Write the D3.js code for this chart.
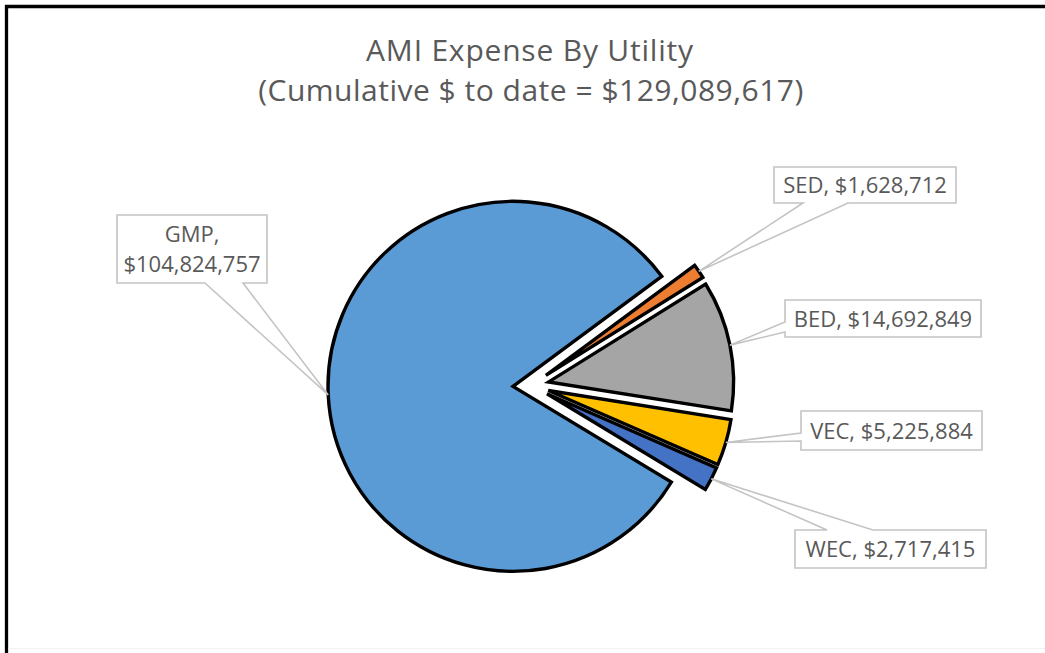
<!DOCTYPE html>
<html>
<head>
<meta charset="utf-8">
<script src="https://cdn.jsdelivr.net/npm/d3@7"></script>
<style>
  body { margin: 0; background: #fff; }
  text { font-family: "Open Sans", "Noto Sans", sans-serif; fill: #595959; }
</style>
</head>
<body>
<script>
'use strict';

// data
var categories = ["GMP", "SED", "BED", "VEC", "WEC"];
var values = [104824757, 1628712, 14692849, 5225884, 2717415];
var title = "AMI Expense By Utility";

var colors = ["#5B9BD5", "#ED7D31", "#A5A5A5", "#FFC000", "#4472C4"];

// callout boxes (x, y, w, h, which edge the pointer leaves from, pointer base a..b)
var boxes = [
  {x: 117, y: 215, w: 150, h: 68, side: "bottom", a: 205, b: 243},
  {x: 774, y: 167, w: 182, h: 36, side: "bottom", a: 803, b: 848},
  {x: 785, y: 300, w: 196, h: 37, side: "left", a: 322, b: 332},
  {x: 801, y: 411, w: 181, h: 39, side: "left", a: 433, b: 441},
  {x: 795, y: 530, w: 191, h: 38, side: "top", a: 827, b: 873}
];

var width = 1045, height = 653;
var cx = 531, cy = 385.5, R = 185, explode = 18;
var start = 121.17 * Math.PI / 180;

var money = d3.format("$,");
var total = d3.sum(values);

var svg = d3.select("body").append("svg")
  .attr("width", width).attr("height", height);

svg.append("rect").attr("width", width).attr("height", height).attr("fill", "#fff");

// chart frame, only left and top edges show in the shot
svg.append("line").attr("x1", 6.5).attr("y1", 5).attr("x2", 6.5).attr("y2", height)
  .attr("stroke", "#000").attr("stroke-width", 3.3);
svg.append("line").attr("x1", 5).attr("y1", 6.5).attr("x2", width).attr("y2", 6.5)
  .attr("stroke", "#000").attr("stroke-width", 3.3);
svg.append("line").attr("x1", 8).attr("y1", 648.5).attr("x2", width).attr("y2", 648.5)
  .attr("stroke", "#f2f2f2").attr("stroke-width", 1);

svg.append("text").attr("x", 530).attr("y", 61).attr("text-anchor", "middle")
  .style("font-size", "30px").style("letter-spacing", "0.8px").text(title);
svg.append("text").attr("x", 531).attr("y", 101).attr("text-anchor", "middle")
  .style("font-size", "30px").style("letter-spacing", "0.5px")
  .text("(Cumulative $ to date = " + money(total) + ")");

var pie = d3.pie().sort(null).value(function (d) { return d; })
  .startAngle(start).endAngle(start + 2 * Math.PI);
var arcs = pie(values);

var arc = d3.arc().innerRadius(0).outerRadius(R);
var rim = d3.arc().innerRadius(R).outerRadius(R);

function shift(d) {
  var a = (d.startAngle + d.endAngle) / 2;
  return [Math.sin(a) * explode, -Math.cos(a) * explode];
}

var g = svg.append("g").attr("transform", "translate(" + cx + "," + cy + ")");

g.selectAll("path.slice").data(arcs).enter().append("path")
  .attr("class", "slice")
  .attr("d", arc)
  .attr("transform", function (d) { var s = shift(d); return "translate(" + s[0] + "," + s[1] + ")"; })
  .attr("fill", function (d, i) { return colors[i]; })
  .attr("stroke", "#000")
  .attr("stroke-width", 3.4)
  .attr("stroke-linejoin", "miter");

// callout shape: rectangle with a wedge going to the tip
function callout(b, tip) {
  var x0 = b.x, y0 = b.y, x1 = b.x + b.w, y1 = b.y + b.h;
  var p = [[x0, y0]];
  if (b.side === "top") p.push([b.a, y0], tip, [b.b, y0]);
  p.push([x1, y0], [x1, y1]);
  if (b.side === "bottom") p.push([b.b, y1], tip, [b.a, y1]);
  p.push([x0, y1]);
  if (b.side === "left") p.push([x0, b.b], tip, [x0, b.a]);
  return d3.line()(p) + "Z";
}

var labels = svg.append("g");
arcs.forEach(function (d, i) {
  var s = shift(d);
  var c = rim.centroid(d);
  var tip = [cx + c[0] + s[0], cy + c[1] + s[1]];
  var b = boxes[i];
  labels.append("path")
    .attr("d", callout(b, tip))
    .attr("fill", "#fff")
    .attr("stroke", "#c4c4c4")
    .attr("stroke-width", 1.6);

  var t = labels.append("text")
    .attr("text-anchor", "middle")
    .style("font-size", "22px");
  if (b.h > 50) {
    // two line label
    t.append("tspan").attr("x", b.x + b.w / 2).attr("y", b.y + 27).text(categories[i] + ",");
    t.append("tspan").attr("x", b.x + b.w / 2).attr("y", b.y + 57).text(money(values[i]));
  } else {
    t.attr("x", b.x + b.w / 2).attr("y", b.y + b.h / 2 + 8)
      .text(categories[i] + ", " + money(values[i]));
  }
});
</script>
</body>
</html>
